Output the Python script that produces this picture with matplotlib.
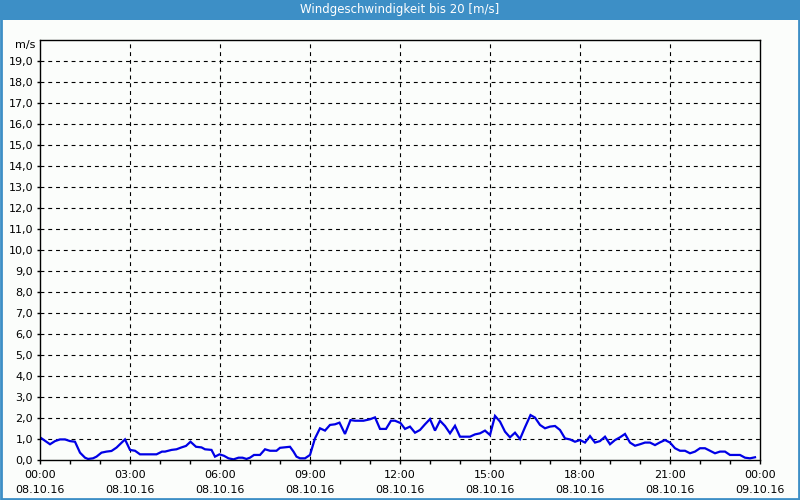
import matplotlib
matplotlib.use("Agg")
import matplotlib.pyplot as plt
from matplotlib.patches import Rectangle
from matplotlib.ticker import MultipleLocator

# minutes since 08.10.16 00:00 and wind speed in m/s
minutes = [0, 20, 30, 40, 50, 60, 70, 80, 90, 96, 106, 113, 123, 133, 143, 153, 170, 180, 190, 200,
           233, 244, 250, 263, 273, 283, 292, 301, 312, 323, 330, 343, 350, 359, 368, 377, 387, 397, 405, 413,
           420, 428, 440, 450, 460, 473, 480, 500, 507, 513, 520, 530, 540, 550, 560, 570, 580, 590, 599, 610,
           621, 630, 647, 660, 670, 680, 692, 702, 710, 721, 730, 740, 750, 760, 770, 780, 790, 800, 810, 820,
           830, 840, 860, 870, 880, 890, 900, 910, 920, 930, 940, 950, 960, 970, 981, 990, 1000, 1010, 1020, 1030,
           1040, 1050, 1060, 1070, 1080, 1090, 1100, 1110, 1120, 1130, 1140, 1150, 1160, 1170, 1180, 1190, 1200, 1210, 1220, 1230,
           1240, 1250, 1260, 1270, 1280, 1290, 1300, 1310, 1320, 1330, 1340, 1350, 1360, 1370, 1380, 1400, 1410, 1420, 1430]
speed = [1.08, 0.75, 0.90, 0.98, 0.98, 0.90, 0.87, 0.35, 0.11, 0.05, 0.08, 0.16, 0.35, 0.40, 0.43, 0.59, 0.98, 0.48, 0.44, 0.27,
         0.27, 0.40, 0.40, 0.48, 0.51, 0.60, 0.67, 0.87, 0.63, 0.60, 0.51, 0.48, 0.16, 0.27, 0.20, 0.08, 0.03, 0.11, 0.11, 0.05,
         0.11, 0.24, 0.24, 0.51, 0.44, 0.44, 0.58, 0.63, 0.40, 0.16, 0.08, 0.08, 0.24, 1.03, 1.51, 1.40, 1.67, 1.70, 1.78, 1.24,
         1.90, 1.87, 1.87, 1.94, 2.03, 1.48, 1.48, 1.87, 1.87, 1.76, 1.48, 1.59, 1.30, 1.43, 1.70, 1.95, 1.40, 1.87, 1.62, 1.27,
         1.63, 1.11, 1.11, 1.22, 1.27, 1.40, 1.19, 2.10, 1.83, 1.35, 1.08, 1.30, 1.00, 1.56, 2.14, 2.02, 1.67, 1.51, 1.59, 1.62,
         1.43, 1.03, 0.98, 0.87, 0.95, 0.83, 1.14, 0.83, 0.90, 1.11, 0.75, 0.95, 1.08, 1.24, 0.83, 0.68, 0.75, 0.83, 0.83, 0.71,
         0.84, 0.95, 0.83, 0.56, 0.44, 0.44, 0.32, 0.40, 0.56, 0.56, 0.44, 0.32, 0.40, 0.40, 0.24, 0.24, 0.11, 0.08, 0.13]

hour_ticks = [0, 3, 6, 9, 12, 15, 18, 21, 24]
tick_labels = ["00:00\n08.10.16", "03:00\n08.10.16", "06:00\n08.10.16", "09:00\n08.10.16",
               "12:00\n08.10.16", "15:00\n08.10.16", "18:00\n08.10.16", "21:00\n08.10.16",
               "00:00\n09.10.16"]
y_ticks = list(range(0, 20))

title = "Windgeschwindigkeit bis 20 [m/s]"
blue = "#3d8fc6"

fig = plt.figure(figsize=(8, 5), dpi=100, facecolor="#fbfdfb")
ax = fig.add_axes([0.05, 0.08, 0.90, 0.84])
ax.set_facecolor("#fbfdfb")

hours = [m / 60 for m in minutes]
ax.plot(hours, speed, color="#0000e6", lw=1.6, solid_joinstyle="miter")

ax.set_xlim(0, 24)
ax.set_ylim(0, 20)
ax.set_xticks(hour_ticks)
ax.set_xticklabels(tick_labels, fontsize=8, linespacing=1.7)
ax.xaxis.set_minor_locator(MultipleLocator(1))
ax.set_yticks(y_ticks)
ax.set_yticklabels([("%.1f" % v).replace(".", ",") for v in y_ticks], fontsize=8)

ax.tick_params(axis="x", which="major", length=3, width=1, pad=4)
ax.tick_params(axis="x", which="minor", length=3, width=1)
ax.tick_params(axis="y", length=2, width=1, pad=3)

for v in range(1, 20):
    ax.axhline(v, color="black", lw=0.8, ls=(0, (3.5, 3.5)), zorder=0)
for h in hour_ticks[1:-1]:
    ax.axvline(h, color="black", lw=0.8, ls=(0, (3.5, 3.5)), zorder=0)

for s in ax.spines.values():
    s.set_linewidth(1)
    s.set_color("black")

ax.text(-0.006, 1.0, "m/s", transform=ax.transAxes, ha="right", va="top", fontsize=8)

# title bar and frame
fig.patches.append(Rectangle((0, 0.96), 1, 0.04, transform=fig.transFigure,
                             facecolor=blue, edgecolor="none", zorder=0))
fig.patches.append(Rectangle((0.001, 0.002), 0.998, 0.997, transform=fig.transFigure,
                             facecolor="none", edgecolor=blue, lw=2, zorder=1))
fig.text(0.5, 0.98, title, color="white", ha="center", va="center", fontsize=8.5)

fig.savefig("out.png", dpi=100, facecolor=fig.get_facecolor())
